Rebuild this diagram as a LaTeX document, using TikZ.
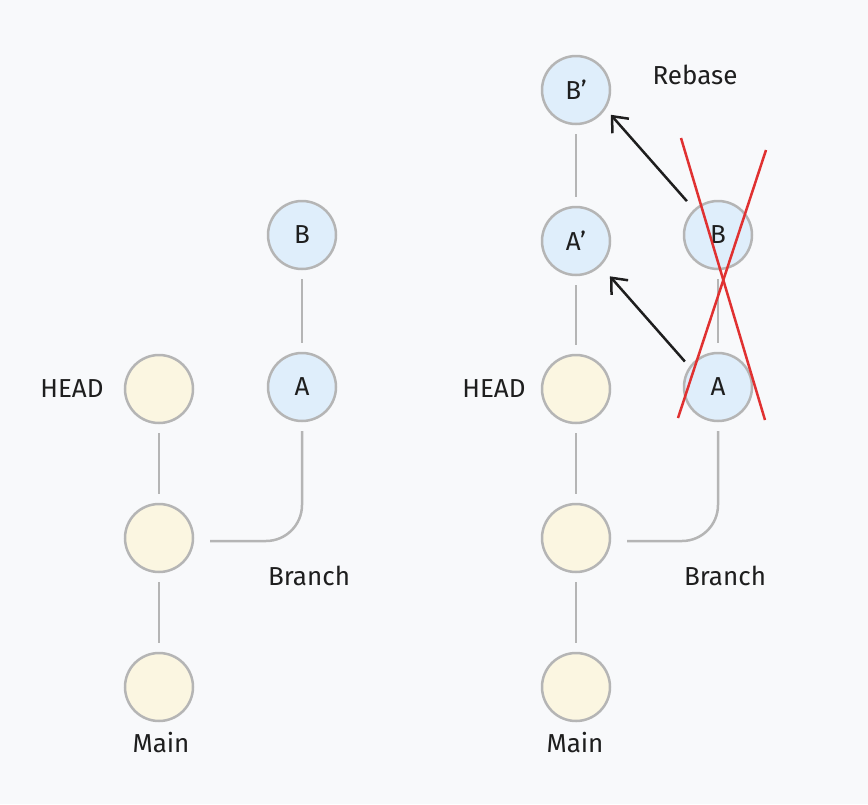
\documentclass[tikz,border=0pt]{standalone}
\usepackage{fontspec}
\setmainfont{Fira Sans}
\usetikzlibrary{positioning, arrows.meta}
\definecolor{bg}{HTML}{F8F9FB}
\definecolor{cream}{HTML}{FBF6E1}
\definecolor{sky}{HTML}{DFEEFB}
\definecolor{ring}{HTML}{B5B5B5}
\definecolor{ink}{HTML}{1E1E1E}
\definecolor{strike}{HTML}{E03131}
\tikzstyle{commit} = [circle, minimum size=68pt, inner sep=0pt, outer sep=0pt, draw=ring, line width=2.5pt, fill=cream, text=ink, font=\fontsize{26}{30}\selectfont]
\tikzstyle{change} = [commit, fill=sky]
\tikzstyle{tag} = [text=ink, font=\fontsize{26}{30}\selectfont]
\tikzstyle{link} = [draw=ring, line width=2.5pt, shorten <=10pt, shorten >=10pt]
\tikzstyle{arrow} = [draw=ink, line width=2.5pt, -{Straight Barb[length=13pt, width=22pt, line width=2.5pt]}]
\tikzstyle{cross} = [draw=strike, line width=2.5pt]
\begin{document}
\begin{tikzpicture}[x=1pt, y=-1pt, on grid, node distance=149pt]
\fill[bg] (0,0) rectangle (868,804);
% before
\node (h1)[commit] at (159,389) {};
\node (m1)[commit, below=of h1] {};
\node (r1)[commit, below=of m1] {};
\node (a1)[change] at (302,387) {A};
\node (b1)[change, above=152pt of a1] {B};
\node (head1)[tag] at (72,389) {HEAD};
\node (main1)[tag] at (161,743) {Main};
\node (branch1)[tag] at (309,576) {Branch};
\draw[link](b1) -- (a1);
\draw[link](h1) -- (m1);
\draw[link](m1) -- (r1);
\draw[link, rounded corners=36pt, shorten <=17pt]([yshift=-3pt]m1.east) -| (a1);
% after
\node (h2)[commit] at (576,389) {};
\node (m2)[commit, below=of h2] {};
\node (r2)[commit, below=of m2] {};
\node (ap)[change, above=148pt of h2] {A'};
\node (bp)[change, above=151pt of ap] {B'};
\node (a2)[change] at (718,387) {A};
\node (b2)[change, above=152pt of a2] {B};
\node (head2)[tag] at (494,389) {HEAD};
\node (main2)[tag] at (575,743) {Main};
\node (branch2)[tag] at (725,576) {Branch};
\node (rebase)[tag] at (695,75) {Rebase};
\draw[link](bp) -- (ap);
\draw[link](ap) -- (h2);
\draw[link](h2) -- (m2);
\draw[link](m2) -- (r2);
\draw[link](b2) -- (a2);
\draw[link, rounded corners=36pt, shorten <=17pt]([yshift=-3pt]m2.east) -| (a2);
\draw[arrow, shorten <=12pt, shorten >=9pt](b2.133) -- (bp.-32);
\draw[arrow, shorten <=8pt, shorten >=15pt](a2.145) -- (ap.-45);
% struck out
\coordinate (x1) at (681,138);
\coordinate (x2) at (765,420);
\coordinate (x3) at (766,150);
\coordinate (x4) at (678,418);
\draw[cross](x1) -- (x2);
\draw[cross](x3) -- (x4);
\end{tikzpicture}
\end{document}
